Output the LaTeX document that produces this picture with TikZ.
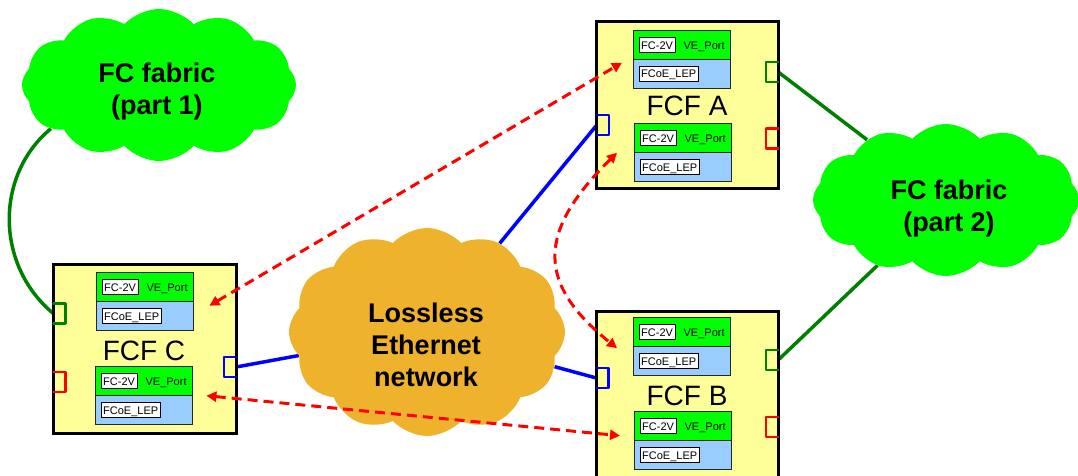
\documentclass[tikz,border=0pt]{standalone}
\usepackage{fontspec}
\setmainfont{Liberation Sans}
\usetikzlibrary{shapes.symbols,arrows.meta,calc}
\definecolor{boxyellow}{HTML}{FFFF99}
\definecolor{vegreen}{HTML}{00FF00}
\definecolor{leblue}{HTML}{99CCFF}
\definecolor{dkgreen}{HTML}{008000}
\definecolor{netgold}{HTML}{EFB22C}
\definecolor{linkblue}{HTML}{0000FF}
\definecolor{arrred}{HTML}{FF0000}
\pgfdeclarelayer{background}
\pgfsetlayers{background,main}
\newcommand{\vemodule}[3]{%
  \node[vemodbox, anchor=north west] (#1) at (#2,#3) {};
  \node[vegreenbox, anchor=north] (#1g) at (#1.north) {};
  \node[vebluebox, anchor=south] (#1b) at (#1.south) {};
  \node[whitelabel, anchor=west] (#1fc) at ([xshift=6pt]#1g.west) {FC-2V};
  \node[smalltext] (#1ve) at ([xshift=71.5pt]#1g.west) {VE\_Port};
  \node[whitelabel, anchor=west] (#1le) at ([xshift=6pt]#1b.west) {FCoE\_LEP};
}
\newcommand{\portleft}[2]{\draw[portline,draw=#2] (#1.north west) -- (#1.north east) -- (#1.south east) -- (#1.south west);}
\newcommand{\portright}[2]{\draw[portline,draw=#2] (#1.north east) -- (#1.north west) -- (#1.south west) -- (#1.south east);}
\begin{document}
\begin{tikzpicture}[x=1pt,y=-1pt,
  fcfbox/.style={draw=black, line width=3pt, fill=boxyellow, minimum width=182pt, minimum height=166pt, inner sep=0pt},
  vemodbox/.style={minimum width=97pt, minimum height=59pt, inner sep=0pt},
  vegreenbox/.style={draw=black!85, line width=1.2pt, fill=vegreen, minimum width=97pt, minimum height=29.5pt, inner sep=0pt},
  vebluebox/.style={draw=black!85, line width=1.2pt, fill=leblue, minimum width=97pt, minimum height=29.5pt, inner sep=0pt},
  whitelabel/.style={draw=black, line width=0.8pt, fill=white, font=\fontsize{11}{13}\selectfont, inner xsep=2.2pt, inner ysep=0pt, minimum height=15pt, text height=7.9pt, text depth=0pt},
  smalltext/.style={font=\fontsize{11}{13}\selectfont, inner sep=0pt, text height=7.9pt, text depth=0pt},
  fcfname/.style={font=\fontsize{28}{32}\selectfont, inner sep=0pt, text height=20pt, text depth=0pt},
  cloudtext/.style={font=\bfseries\fontsize{27}{32}\selectfont, align=center, inner sep=0pt},
  netcloud/.style={cloud, cloud puffs=12, cloud puff arc=95, cloud ignores aspect, draw=none, inner sep=0pt},
  port/.style={minimum width=12pt, minimum height=20pt, inner sep=0pt},
  portline/.style={line width=2.5pt, line cap=round, line join=round},
  gline/.style={draw=dkgreen, line width=3.5pt},
  bline/.style={draw=linkblue, line width=3.5pt},
  rarrow/.style={draw=arrred, line width=3pt, dash pattern=on 10pt off 6pt, {Triangle[length=10pt,width=10pt]}-{Triangle[length=10pt,width=10pt]}}
]
\useasboundingbox (0,0) rectangle (1078,476);
\clip (0,0) rectangle (1078,476);
% clouds
\node[netcloud, fill=vegreen, minimum width=274pt, minimum height=152pt] (c1) at (159,85) {};
\node[netcloud, fill=vegreen, minimum width=266pt, minimum height=152pt] (c2) at (946,200) {};
\node[netcloud, fill=netgold, minimum width=276pt, minimum height=208pt] (cL) at (427,332) {};
\node[cloudtext] (t1) at (157,92) {FC fabric\\(part 1)};
\node[cloudtext] (t2) at (949,209) {FC fabric\\(part 2)};
\node[cloudtext] (tL) at (426,345) {Lossless\\Ethernet\\network};
% FCF boxes
\node[fcfbox] (A) at (687,105) {};
\node[fcfbox, minimum width=183pt, minimum height=169pt] (C) at (144.5,348.5) {};
\node[fcfbox] (B) at (687,394) {};
\node[fcfname] (Alab) at (687,106) {FCF A};
\node[fcfname] (Clab) at (144,350) {FCF C};
\node[fcfname] (Blab) at (687,395) {FCF B};
% VE modules
\vemodule{AV1}{633}{30}
\vemodule{AV2}{634}{123}
\vemodule{CV1}{96}{272}
\vemodule{CV2}{95}{366}
\vemodule{BV1}{633}{317}
\vemodule{BV2}{634}{411}
% ports
\node[port] (pAb) at (603,125) {};
\node[port] (pAg) at (772,72) {};
\node[port] (pAr) at (772,138.5) {};
\node[port] (pCg) at (59.5,313.5) {};
\node[port] (pCr) at (59.5,382) {};
\node[port] (pCb) at (230,367) {};
\node[port] (pBb) at (602.5,378) {};
\node[port] (pBg) at (772,360) {};
\node[port] (pBr) at (772,427) {};
\portleft{pAb}{linkblue}
\portright{pAg}{dkgreen}
\portright{pAr}{arrred}
\portleft{pCg}{dkgreen}
\portleft{pCr}{arrred}
\portright{pCb}{linkblue}
\portleft{pBb}{linkblue}
\portright{pBg}{dkgreen}
\portright{pBr}{arrred}
% physical links
\begin{pgfonlayer}{background}
\draw[gline] (c1.202) .. controls (-5,175) and (-5,265) .. (pCg.west);
\draw[gline] (pAg.east) -- (c2);
\draw[gline] (pBg.east) -- (c2);
\draw[bline] (pCb.east) -- (cL);
\draw[bline] (cL) -- (pAb.west);
\draw[bline] (cL) -- (pBb.west);
\end{pgfonlayer}
% virtual links
\coordinate (r1c) at ($(CV1.east)+(16,4)$);
\coordinate (r1a) at ($(AV1.west)+(-11,3)$);
\coordinate (r2c) at ($(CV2.east)+(14,0)$);
\coordinate (r2b) at ($(BV2.west)+(-14,-5)$);
\coordinate (r3a) at ($(AV2.west)+(-17,0)$);
\coordinate (r3b) at ($(BV1.west)+(-16,1.5)$);
\draw[rarrow] (r1c) -- (r1a);
\draw[rarrow] (r2c) -- (r2b);
\draw[rarrow] (r3a) .. controls (537,232) and (536,283) .. (r3b);
\end{tikzpicture}
\end{document}
